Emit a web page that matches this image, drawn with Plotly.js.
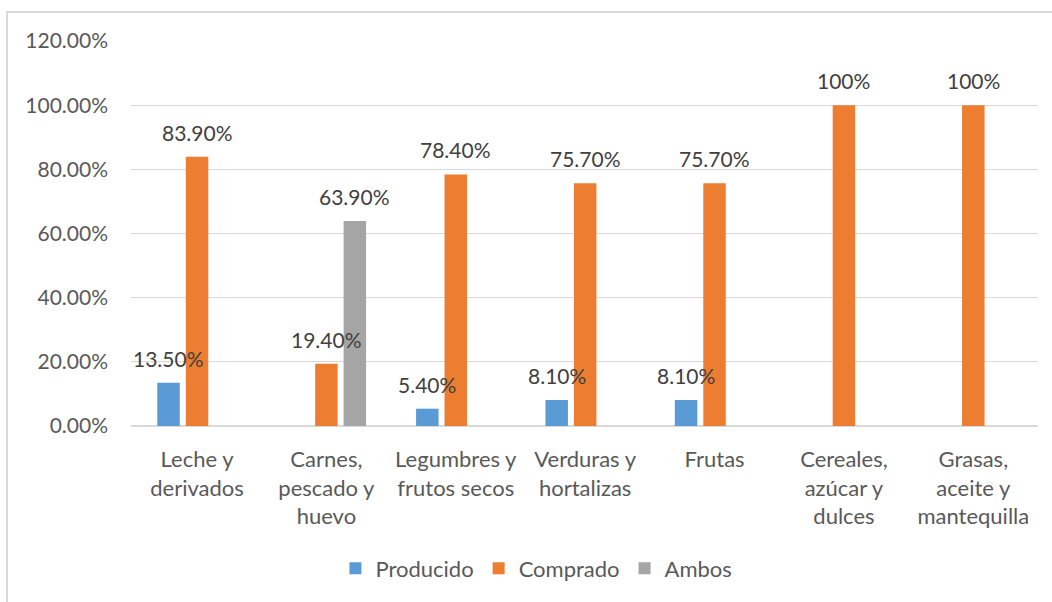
<!DOCTYPE html>
<html>
<head>
<meta charset="utf-8">
<script src="https://cdn.plot.ly/plotly-3.0.1.min.js"></script>
<style>
  html, body { margin: 0; padding: 0; background: #fff; overflow: hidden; }
  #frame { position: absolute; left: 6px; top: 11px; width: 1200px; height: 800px; border: 2px solid #d9d9d9; box-sizing: border-box; }
  #chart { position: absolute; left: 0; top: 0; width: 1052px; height: 602px; }
</style>
</head>
<body>
<div id="frame"></div>
<div id="chart"></div>
<script>
const categories = ["Leche y derivados", "Carnes, pescado y huevo", "Legumbres y frutos secos", "Verduras y hortalizas", "Frutas", "Cereales, azúcar y dulces", "Grasas, aceite y mantequilla"];
const categoryLabels = ["Leche y<br>derivados", "Carnes,<br>pescado y<br>huevo", "Legumbres y<br>frutos secos", "Verduras y<br>hortalizas", "Frutas", "Cereales,<br>azúcar y<br>dulces", "Grasas,<br>aceite y<br>mantequilla"];
const producido = [13.5, null, 5.4, 8.1, 8.1, null, null];
const comprado = [83.9, 19.4, 78.4, 75.7, 75.7, 100, 100];
const ambos = [null, 63.9, null, null, null, null, null];
const producidoLabels = ["13.50%", "", "5.40%", "8.10%", "8.10%", "", ""];
const compradoLabels = ["83.90%", "19.40%", "78.40%", "75.70%", "75.70%", "100%", "100%"];
const ambosLabels = ["", "63.90%", "", "", "", "", ""];
const yTickVals = [0, 20, 40, 60, 80, 100, 120];
const yTickText = ["0.00%", "20.00%", "40.00%", "60.00%", "80.00%", "100.00%", "120.00%"];

const FONT = "Lato, 'Open Sans', sans-serif";
const W = 1052, H = 602;
const margin = { l: 131, r: 14, t: 41, b: 173, pad: 0 };
const bargap = 0.34, bargroupgap = 0.21;
const plotW = W - margin.l - margin.r;
const catW = plotW / categories.length;
const slotW = catW * (1 - bargap) / 3;

const series = [
  { name: "Producido", values: producido, labels: producidoLabels, color: "#5B9BD5" },
  { name: "Comprado", values: comprado, labels: compradoLabels, color: "#ED7D31" },
  { name: "Ambos", values: ambos, labels: ambosLabels, color: "#A5A5A5" }
];

const traces = series.map(s => ({
  type: "bar",
  name: s.name,
  x: categories,
  y: s.values,
  marker: { color: s.color, line: { width: 0 } },
  hoverinfo: "skip"
}));

const annotations = [];
series.forEach((s, si) => {
  s.values.forEach((v, i) => {
    if (v === null || v === undefined) return;
    annotations.push({
      x: categories[i], y: v, xref: "x", yref: "y",
      text: s.labels[i], showarrow: false,
      xanchor: "center", yanchor: "bottom",
      xshift: (si - 1) * slotW, yshift: 10,
      font: { family: FONT, size: 21, color: "#404040" }
    });
  });
});

const layout = {
  width: W, height: H,
  margin: margin,
  paper_bgcolor: "rgba(0,0,0,0)",
  plot_bgcolor: "rgba(0,0,0,0)",
  barmode: "group",
  bargap: bargap,
  bargroupgap: bargroupgap,
  font: { family: FONT, size: 21, color: "#595959" },
  showlegend: true,
  legend: {
    orientation: "h", x: 0.447, xanchor: "center", y: -0.37, yanchor: "middle",
    font: { family: FONT, size: 22, color: "#595959" },
    itemclick: false, itemdoubleclick: false, traceorder: "normal"
  },
  xaxis: {
    type: "category",
    tickvals: categories,
    ticktext: categoryLabels,
    showgrid: false, zeroline: false, showline: false,
    ticks: "", ticklabelstandoff: 18,
    tickfont: { family: FONT, size: 22, color: "#595959" },
    fixedrange: true
  },
  yaxis: {
    range: [0, 120],
    tickvals: yTickVals,
    ticktext: yTickText,
    showgrid: true, gridcolor: "#D9D9D9", gridwidth: 1.3,
    zeroline: true, zerolinecolor: "#D9D9D9", zerolinewidth: 1.3,
    showline: false, ticks: "", ticklabelstandoff: 22,
    tickfont: { family: FONT, size: 21, color: "#595959" },
    fixedrange: true
  },
  annotations: annotations
};

Plotly.newPlot("chart", traces, layout, { displayModeBar: false, staticPlot: true });
</script>
</body>
</html>
